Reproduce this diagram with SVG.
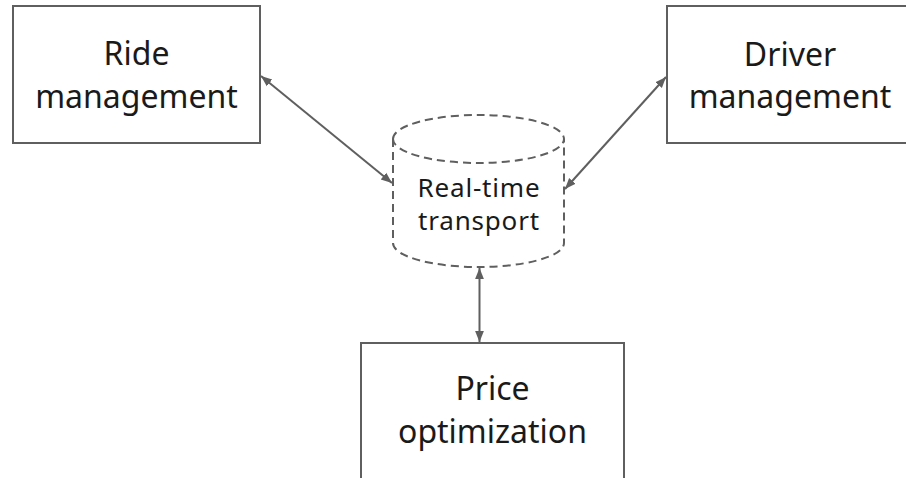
<svg xmlns="http://www.w3.org/2000/svg" width="906" height="478" viewBox="0 0 906 478">
  <defs>
    <style>
      .box { fill: #ffffff; stroke: #5f5f5f; stroke-width: 2; }
      .store { fill: none; stroke: #5f5f5f; stroke-width: 2; stroke-dasharray: 8 5; }
      .label { font-family: "Noto Sans", "Open Sans", sans-serif; font-size: 32px; fill: #1a1a1a; text-anchor: middle; }
      .small { font-size: 26px; letter-spacing: 0.8px; }
      .link { fill: none; stroke: #5f5f5f; stroke-width: 2; marker-start: url(#head); marker-end: url(#head); }
    </style>
    <marker id="head" viewBox="0 0 10 10" refX="10" refY="5" markerWidth="11" markerHeight="11" markerUnits="userSpaceOnUse" orient="auto-start-reverse">
      <path d="M0,1 L10,5 L0,9 Z" fill="#5f5f5f"/>
    </marker>
  </defs>
  <rect width="906" height="478" fill="#ffffff"/>

  <g id="ride-management">
    <rect class="box" x="13" y="6" width="247" height="137"/>
    <text class="label" x="136.5" y="65">Ride</text>
    <text class="label" x="136.5" y="108">management</text>
  </g>

  <g id="driver-management">
    <rect class="box" x="667" y="6" width="247" height="137"/>
    <text class="label" x="790" y="66">Driver</text>
    <text class="label" x="790" y="108">management</text>
  </g>

  <g id="real-time-transport">
    <path class="store" d="M393,139 A85.5,24 0 0 1 564,139 A85.5,24 0 0 1 393,139 Z"/>
    <path class="store" d="M393,139 L393,243 A85.5,24 0 0 0 564,243 L564,139"/>
    <text class="label small" x="479" y="197">Real-time</text>
    <text class="label small" x="479" y="230">transport</text>
  </g>

  <g id="price-optimization">
    <rect class="box" x="361" y="343" width="263" height="160"/>
    <text class="label" x="492.5" y="400">Price</text>
    <text class="label" x="492.5" y="443">optimization</text>
  </g>

  <g id="connectors">
    <line class="link" x1="261" y1="76" x2="392" y2="183"/>
    <line class="link" x1="666" y1="77" x2="565" y2="189"/>
    <line class="link" x1="479.5" y1="268" x2="479.5" y2="342"/>
  </g>
</svg>
